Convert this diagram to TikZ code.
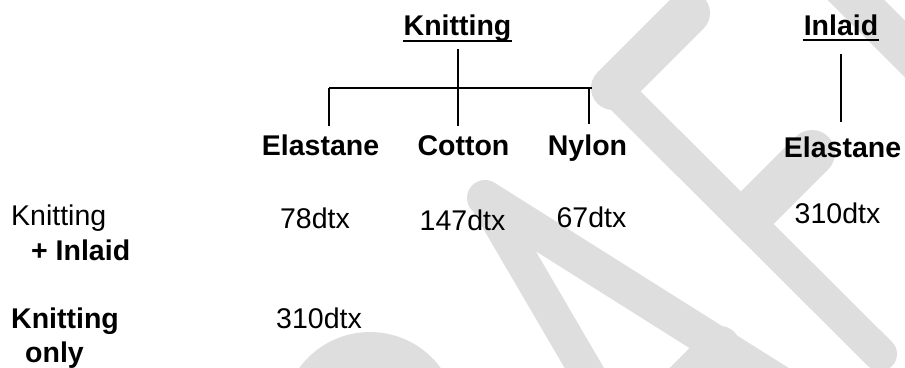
\documentclass[tikz,border=0pt]{standalone}
\usepackage{fontspec}
\setmainfont{Liberation Sans}
\definecolor{wm}{RGB}{222,222,222}
\begin{document}
\begin{tikzpicture}[x=1pt,y=-1pt,
  hdr/.style={font=\fontsize{28.5}{30}\selectfont\bfseries, inner sep=0pt, anchor=base},
  val/.style={font=\fontsize{28.5}{30}\selectfont, inner sep=0pt, anchor=base},
  wmline/.style={draw=wm, line cap=round, line join=round},
  conn/.style={draw=black, line width=1.1pt},
  uline/.style={draw=black, line width=2.7pt}]
\useasboundingbox (0,0) rectangle (905,367);
% watermark
\begin{scope}
\clip (0,0) rectangle (905,367);
\fill[wm] (370,419.5) circle (87.5);
\draw[wmline, line width=44pt] (688,13) -- (613,88);
\draw[wmline, line width=34pt] (613,88) -- (880,354);
\draw[wmline, line width=46pt] (812,153) -- (750,215);
\draw[wmline, line width=34pt] (485,198) -- (603,400);
\draw[wmline, line width=36pt] (485,198) -- (820,409);
\draw[wmline, line width=40pt] (720,346) -- (640,426);
\draw[wmline, line width=40pt] (830,-26) -- (960,104);
\end{scope}
% headers
\node[hdr] (kn) at (457.5,35) {Knitting};
\node[hdr] (in) at (841,35) {Inlaid};
\node[hdr] (el) at (320.5,155) {Elastane};
\node[hdr] (co) at (463.5,155) {Cotton};
\node[hdr] (ny) at (587.5,155) {Nylon};
\node[hdr] (er) at (842.5,157) {Elastane};
\draw[uline] (403,41) -- (512,41);
\draw[uline] (803,40) -- (879,40);
% connectors
\coordinate (kt) at (458,49);
\coordinate (kb) at (458,126);
\coordinate (hl) at (329,88);
\coordinate (hr) at (592,88);
\coordinate (elt) at (329,126);
\coordinate (nyt) at (589,124);
\coordinate (nyh) at (589,88);
\coordinate (it) at (841,54);
\coordinate (ib) at (841,122);
\draw[conn] (kt) -- (kb);
\draw[conn] (hl) -- (hr);
\draw[conn] (hl) -- (elt);
\draw[conn] (nyh) -- (nyt);
\draw[conn] (it) -- (ib);
% row labels
\node[val, anchor=base west] (r1a) at (11,225) {Knitting};
\node[hdr, anchor=base west] (r1b) at (31,260) {+ Inlaid};
\node[hdr, anchor=base west] (r2a) at (11,328) {Knitting};
\node[hdr, anchor=base west] (r2b) at (25,362) {only};
% values
\node[val] (v1) at (315,228) {78dtx};
\node[val] (v2) at (462.5,230) {147dtx};
\node[val] (v3) at (591.5,227) {67dtx};
\node[val] (v4) at (837.5,223) {310dtx};
\node[val] (v5) at (319,328) {310dtx};
\end{tikzpicture}
\end{document}
